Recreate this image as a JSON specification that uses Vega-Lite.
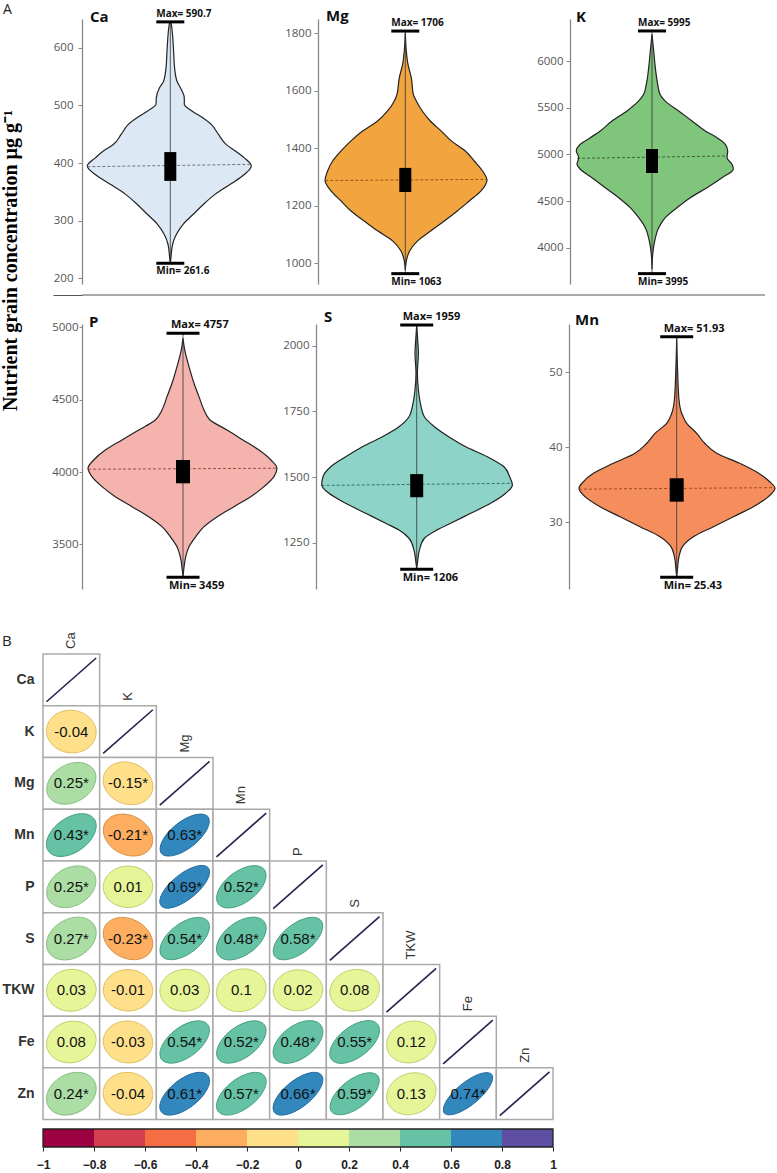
{
"$schema": "https://vega.github.io/schema/vega-lite/v6.json",
"background": "white",
"padding": {"left": 0, "top": 3, "right": 0, "bottom": 0},
"config": {
  "view": {"stroke": null},
  "axisX": {"domain": false, "ticks": false, "labels": false, "grid": false},
  "axisY": {"grid": false, "domainColor": "#888", "domainWidth": 1.3, "tickColor": "#888", "tickSize": 4, "tickWidth": 1, "labelColor": "#555", "labelFont": "Open Sans", "labelFontSize": 11.5, "labelPadding": 3}
},
"spacing": 40,
"vconcat": [
{
  "spacing": 4,
  "hconcat": [
    {
      "width": 2, "height": 482,
      "title": {"text": "A", "anchor": "start", "frame": "bounds", "offset": 2, "dx": 3, "fontSize": 14, "font": "Open Sans", "fontWeight": "normal", "color": "#222"},
      "data": {"values": [{"p": 0}]},
      "mark": {"type": "point", "opacity": 0},
      "encoding": {"y": {"field": "p", "type": "quantitative", "scale": {"domain": [0, 1]},
        "axis": {"title": "Nutrient grain concentration µg g⁻¹", "titleFont": "Liberation Serif", "titleFontSize": 20, "titleFontWeight": "bold", "titleColor": "#000", "titlePadding": 23, "labels": false, "ticks": false, "domain": false}}}
    },
    {
      "spacing": 7,
      "vconcat": [
        {
          "spacing": 0,
          "hconcat": [
            {
              "width": 202, "height": 265,
              "layer": [
                {
                  "data": {"values": [
                    {"v": 226, "l": 0, "r": 0}, {"v": 230, "l": -0.003, "r": 0.003}, {"v": 259, "l": -0.023, "r": 0.023}, {"v": 276, "l": -0.06, "r": 0.06}, {"v": 294, "l": -0.13, "r": 0.13}, {"v": 311, "l": -0.23, "r": 0.23}, {"v": 328, "l": -0.33, "r": 0.33}, {"v": 346, "l": -0.45, "r": 0.45}, {"v": 363, "l": -0.6, "r": 0.6}, {"v": 380, "l": -0.75, "r": 0.74}, {"v": 395, "l": -0.83, "r": 0.81}, {"v": 409, "l": -0.75, "r": 0.74}, {"v": 421, "l": -0.67, "r": 0.65}, {"v": 432, "l": -0.57, "r": 0.56}, {"v": 450, "l": -0.49, "r": 0.48}, {"v": 467, "l": -0.42, "r": 0.41}, {"v": 479, "l": -0.33, "r": 0.32}, {"v": 490, "l": -0.23, "r": 0.22}, {"v": 502, "l": -0.143, "r": 0.14}, {"v": 513, "l": -0.14, "r": 0.14}, {"v": 531, "l": -0.107, "r": 0.1}, {"v": 542, "l": -0.067, "r": 0.067}, {"v": 565, "l": -0.043, "r": 0.043}, {"v": 594, "l": -0.033, "r": 0.033}, {"v": 641, "l": -0.01, "r": 0.01}, {"v": 645, "l": 0, "r": 0}
                  ]},
                  "mark": {"type": "area", "orient": "horizontal", "interpolate": "monotone", "fill": "#DCE9F5", "stroke": "#222", "strokeWidth": 1.2},
                  "encoding": {
                    "y": {"field": "v", "type": "quantitative", "title": null, "scale": {"domain": [190, 650], "nice": false, "zero": false}, "axis": {"values": [200, 300, 400, 500, 600], "format": "d", "labelPadding": 5}},
                    "x": {"field": "l", "type": "quantitative", "title": null, "scale": {"domain": [-0.883, 1.137], "nice": false, "zero": false}},
                    "x2": {"field": "r"}
                  }
                },
                {
                  "data": {"values": [{"lo": 226, "hi": 645, "q1": 369, "q3": 419, "ml": 393.6, "mr": 397.7, "dl": -0.83, "dr": 0.81}]},
                  "layer": [
                    {"mark": {"type": "rule", "color": "#333", "strokeWidth": 0.8}, "encoding": {"x": {"datum": 0}, "y": {"field": "lo", "type": "quantitative", "title": null}, "y2": {"field": "hi"}}},
                    {"mark": {"type": "rule", "color": "#555", "strokeWidth": 0.8, "strokeDash": [3, 2]}, "encoding": {"x": {"field": "dl", "type": "quantitative", "title": null}, "x2": {"field": "dr"}, "y": {"field": "ml", "type": "quantitative", "title": null}, "y2": {"field": "mr"}}},
                    {"mark": {"type": "rule", "color": "#000", "strokeWidth": 12, "strokeCap": "butt"}, "encoding": {"x": {"datum": 0}, "y": {"field": "q1", "type": "quantitative", "title": null}, "y2": {"field": "q3"}}}
                  ]
                },
                {
                  "data": {"values": [{"k": "max", "v": 645, "t": "Max= 590.7"}, {"k": "min", "v": 226, "t": "Min= 261.6"}]},
                  "layer": [
                    {"mark": {"type": "tick", "orient": "horizontal", "size": 28, "thickness": 3, "color": "#000", "opacity": 1}, "encoding": {"x": {"datum": 0}, "y": {"field": "v", "type": "quantitative", "title": null}}},
                    {"transform": [{"filter": "datum.k == 'max'"}], "mark": {"type": "text", "align": "left", "baseline": "bottom", "dx": -14, "dy": -3, "font": "Open Sans", "fontWeight": "bold", "fontSize": 10, "color": "#111"}, "encoding": {"x": {"datum": 0}, "y": {"field": "v", "type": "quantitative", "title": null}, "text": {"field": "t"}}},
                    {"transform": [{"filter": "datum.k == 'min'"}], "mark": {"type": "text", "align": "left", "baseline": "top", "dx": -14, "dy": 3, "font": "Open Sans", "fontWeight": "bold", "fontSize": 10, "color": "#111"}, "encoding": {"x": {"datum": 0}, "y": {"field": "v", "type": "quantitative", "title": null}, "text": {"field": "t"}}}
                  ]
                },
                {
                  "data": {"values": [{"n": "Ca"}]},
                  "mark": {"type": "text", "align": "left", "baseline": "middle", "dx": 8, "dy": -2, "font": "Open Sans", "fontWeight": "bold", "fontSize": 15, "color": "#111"},
                  "encoding": {"x": {"datum": -0.883}, "y": {"datum": 650}, "text": {"field": "n"}}
                }
              ]
            },
            {
              "width": 218, "height": 265,
              "layer": [
                {
                  "data": {"values": [
                    {"v": 975, "l": 0, "r": 0}, {"v": 1007, "l": -0.01, "r": 0.01}, {"v": 1042, "l": -0.043, "r": 0.043}, {"v": 1077, "l": -0.127, "r": 0.123}, {"v": 1112, "l": -0.277, "r": 0.257}, {"v": 1146, "l": -0.41, "r": 0.39}, {"v": 1181, "l": -0.543, "r": 0.52}, {"v": 1216, "l": -0.643, "r": 0.64}, {"v": 1251, "l": -0.743, "r": 0.757}, {"v": 1288, "l": -0.803, "r": 0.817}, {"v": 1320, "l": -0.777, "r": 0.773}, {"v": 1355, "l": -0.727, "r": 0.69}, {"v": 1390, "l": -0.643, "r": 0.6}, {"v": 1425, "l": -0.543, "r": 0.46}, {"v": 1459, "l": -0.427, "r": 0.36}, {"v": 1494, "l": -0.277, "r": 0.25}, {"v": 1529, "l": -0.177, "r": 0.17}, {"v": 1564, "l": -0.11, "r": 0.11}, {"v": 1587, "l": -0.083, "r": 0.08}, {"v": 1645, "l": -0.06, "r": 0.06}, {"v": 1691, "l": -0.027, "r": 0.027}, {"v": 1738, "l": -0.01, "r": 0.01}, {"v": 1801, "l": 0, "r": 0}
                  ]},
                  "mark": {"type": "area", "orient": "horizontal", "interpolate": "monotone", "fill": "#F2A53F", "stroke": "#222", "strokeWidth": 1.2},
                  "encoding": {
                    "y": {"field": "v", "type": "quantitative", "title": null, "scale": {"domain": [927, 1849], "nice": false, "zero": false}, "axis": {"values": [1000, 1200, 1400, 1600, 1800], "format": "d"}},
                    "x": {"field": "l", "type": "quantitative", "title": null, "scale": {"domain": [-0.873, 1.307], "nice": false, "zero": false}},
                    "x2": {"field": "r"}
                  }
                },
                {
                  "data": {"values": [{"lo": 963, "hi": 1807, "q1": 1247, "q3": 1331, "ml": 1287, "mr": 1291, "dl": -0.8, "dr": 0.817}]},
                  "layer": [
                    {"mark": {"type": "rule", "color": "#333", "strokeWidth": 0.8}, "encoding": {"x": {"datum": 0}, "y": {"field": "lo", "type": "quantitative", "title": null}, "y2": {"field": "hi"}}},
                    {"mark": {"type": "rule", "color": "#7a4500", "strokeWidth": 0.8, "strokeDash": [3, 2]}, "encoding": {"x": {"field": "dl", "type": "quantitative", "title": null}, "x2": {"field": "dr"}, "y": {"field": "ml", "type": "quantitative", "title": null}, "y2": {"field": "mr"}}},
                    {"mark": {"type": "rule", "color": "#000", "strokeWidth": 12, "strokeCap": "butt"}, "encoding": {"x": {"datum": 0}, "y": {"field": "q1", "type": "quantitative", "title": null}, "y2": {"field": "q3"}}}
                  ]
                },
                {
                  "data": {"values": [{"k": "max", "v": 1807, "t": "Max= 1706"}, {"k": "min", "v": 963, "t": "Min= 1063"}]},
                  "layer": [
                    {"mark": {"type": "tick", "orient": "horizontal", "size": 28, "thickness": 3, "color": "#000", "opacity": 1}, "encoding": {"x": {"datum": 0}, "y": {"field": "v", "type": "quantitative", "title": null}}},
                    {"transform": [{"filter": "datum.k == 'max'"}], "mark": {"type": "text", "align": "left", "baseline": "bottom", "dx": -14, "dy": -3, "font": "Open Sans", "fontWeight": "bold", "fontSize": 10, "color": "#111"}, "encoding": {"x": {"datum": 0}, "y": {"field": "v", "type": "quantitative", "title": null}, "text": {"field": "t"}}},
                    {"transform": [{"filter": "datum.k == 'min'"}], "mark": {"type": "text", "align": "left", "baseline": "top", "dx": -14, "dy": 3, "font": "Open Sans", "fontWeight": "bold", "fontSize": 10, "color": "#111"}, "encoding": {"x": {"datum": 0}, "y": {"field": "v", "type": "quantitative", "title": null}, "text": {"field": "t"}}}
                  ]
                },
                {
                  "data": {"values": [{"n": "Mg"}]},
                  "mark": {"type": "text", "align": "left", "baseline": "middle", "dx": 8, "dy": -3, "font": "Open Sans", "fontWeight": "bold", "fontSize": 15, "color": "#111"},
                  "encoding": {"x": {"datum": -0.873}, "y": {"datum": 1849}, "text": {"field": "n"}}
                }
              ]
            },
            {
              "width": 170, "height": 265,
              "layer": [
                {
                  "data": {"values": [
                    {"v": 3772, "l": 0, "r": 0}, {"v": 3932, "l": -0.007, "r": 0.007}, {"v": 4075, "l": -0.027, "r": 0.027}, {"v": 4217, "l": -0.067, "r": 0.067}, {"v": 4324, "l": -0.133, "r": 0.133}, {"v": 4431, "l": -0.217, "r": 0.25}, {"v": 4538, "l": -0.333, "r": 0.383}, {"v": 4645, "l": -0.467, "r": 0.55}, {"v": 4752, "l": -0.6, "r": 0.7}, {"v": 4842, "l": -0.717, "r": 0.813}, {"v": 4895, "l": -0.75, "r": 0.8}, {"v": 4966, "l": -0.733, "r": 0.75}, {"v": 5038, "l": -0.757, "r": 0.757}, {"v": 5109, "l": -0.717, "r": 0.733}, {"v": 5180, "l": -0.617, "r": 0.65}, {"v": 5252, "l": -0.517, "r": 0.533}, {"v": 5359, "l": -0.4, "r": 0.4}, {"v": 5466, "l": -0.25, "r": 0.267}, {"v": 5573, "l": -0.133, "r": 0.13}, {"v": 5644, "l": -0.083, "r": 0.08}, {"v": 5751, "l": -0.057, "r": 0.057}, {"v": 5929, "l": -0.033, "r": 0.033}, {"v": 6108, "l": -0.017, "r": 0.017}, {"v": 6286, "l": 0, "r": 0}
                  ]},
                  "mark": {"type": "area", "orient": "horizontal", "interpolate": "monotone", "fill": "#80C57C", "stroke": "#222", "strokeWidth": 1.2},
                  "encoding": {
                    "y": {"field": "v", "type": "quantitative", "title": null, "scale": {"domain": [3614, 6450], "nice": false, "zero": false}, "axis": {"values": [4000, 4500, 5000, 5500, 6000], "format": "d"}},
                    "x": {"field": "l", "type": "quantitative", "title": null, "scale": {"domain": [-0.82, 0.88], "nice": false, "zero": false}},
                    "x2": {"field": "r"}
                  }
                },
                {
                  "data": {"values": [{"lo": 3725, "hi": 6322, "q1": 4802, "q3": 5059, "ml": 4959, "mr": 4984, "dl": -0.75, "dr": 0.75}]},
                  "layer": [
                    {"mark": {"type": "rule", "color": "#333", "strokeWidth": 0.8}, "encoding": {"x": {"datum": 0}, "y": {"field": "lo", "type": "quantitative", "title": null}, "y2": {"field": "hi"}}},
                    {"mark": {"type": "rule", "color": "#2b4a2b", "strokeWidth": 0.8, "strokeDash": [3, 2]}, "encoding": {"x": {"field": "dl", "type": "quantitative", "title": null}, "x2": {"field": "dr"}, "y": {"field": "ml", "type": "quantitative", "title": null}, "y2": {"field": "mr"}}},
                    {"mark": {"type": "rule", "color": "#000", "strokeWidth": 12, "strokeCap": "butt"}, "encoding": {"x": {"datum": 0}, "y": {"field": "q1", "type": "quantitative", "title": null}, "y2": {"field": "q3"}}}
                  ]
                },
                {
                  "data": {"values": [{"k": "max", "v": 6322, "t": "Max= 5995"}, {"k": "min", "v": 3725, "t": "Min= 3995"}]},
                  "layer": [
                    {"mark": {"type": "tick", "orient": "horizontal", "size": 28, "thickness": 3, "color": "#000", "opacity": 1}, "encoding": {"x": {"datum": 0}, "y": {"field": "v", "type": "quantitative", "title": null}}},
                    {"transform": [{"filter": "datum.k == 'max'"}], "mark": {"type": "text", "align": "left", "baseline": "bottom", "dx": -14, "dy": -3, "font": "Open Sans", "fontWeight": "bold", "fontSize": 10, "color": "#111"}, "encoding": {"x": {"datum": 0}, "y": {"field": "v", "type": "quantitative", "title": null}, "text": {"field": "t"}}},
                    {"transform": [{"filter": "datum.k == 'min'"}], "mark": {"type": "text", "align": "left", "baseline": "top", "dx": -14, "dy": 3, "font": "Open Sans", "fontWeight": "bold", "fontSize": 10, "color": "#111"}, "encoding": {"x": {"datum": 0}, "y": {"field": "v", "type": "quantitative", "title": null}, "text": {"field": "t"}}}
                  ]
                },
                {
                  "data": {"values": [{"n": "K"}]},
                  "mark": {"type": "text", "align": "left", "baseline": "middle", "dx": 6, "dy": -2, "font": "Open Sans", "fontWeight": "bold", "fontSize": 15, "color": "#111"},
                  "encoding": {"x": {"datum": -0.82}, "y": {"datum": 6450}, "text": {"field": "n"}}
                }
              ]
            }
          ]
        },
        {
          "width": 683, "height": 8,
          "data": {"values": [{"p": 1}]},
          "mark": {"type": "rule", "color": "#555", "strokeWidth": 1},
          "encoding": {"y": {"field": "p", "type": "quantitative", "scale": {"domain": [0, 1]},
            "axis": {"values": [1], "labels": false, "domain": false, "ticks": true, "tickSize": 29, "tickColor": "#555", "tickWidth": 1, "title": null}}}
        },
        {
          "spacing": 0,
          "hconcat": [
            {
              "width": 200, "height": 265,
              "layer": [
                {
                  "data": {"values": [
                    {"v": 3278, "l": 0, "r": 0}, {"v": 3324, "l": -0.007, "r": 0.007}, {"v": 3416, "l": -0.027, "r": 0.027}, {"v": 3485, "l": -0.06, "r": 0.06}, {"v": 3554, "l": -0.127, "r": 0.127}, {"v": 3623, "l": -0.21, "r": 0.21}, {"v": 3692, "l": -0.343, "r": 0.343}, {"v": 3761, "l": -0.51, "r": 0.51}, {"v": 3830, "l": -0.677, "r": 0.677}, {"v": 3899, "l": -0.81, "r": 0.81}, {"v": 3968, "l": -0.91, "r": 0.91}, {"v": 4026, "l": -0.95, "r": 0.94}, {"v": 4083, "l": -0.893, "r": 0.88}, {"v": 4152, "l": -0.777, "r": 0.76}, {"v": 4221, "l": -0.61, "r": 0.6}, {"v": 4290, "l": -0.443, "r": 0.44}, {"v": 4359, "l": -0.277, "r": 0.27}, {"v": 4428, "l": -0.21, "r": 0.21}, {"v": 4520, "l": -0.16, "r": 0.16}, {"v": 4612, "l": -0.11, "r": 0.11}, {"v": 4727, "l": -0.06, "r": 0.06}, {"v": 4842, "l": -0.017, "r": 0.017}, {"v": 4922, "l": 0, "r": 0}
                  ]},
                  "mark": {"type": "area", "orient": "horizontal", "interpolate": "monotone", "fill": "#F5B3AE", "stroke": "#222", "strokeWidth": 1.2},
                  "encoding": {
                    "y": {"field": "v", "type": "quantitative", "title": null, "scale": {"domain": [3193, 5021], "nice": false, "zero": false}, "axis": {"values": [3500, 4000, 4500, 5000], "format": "d", "labelPadding": 1, "tickSize": 3}},
                    "x": {"field": "l", "type": "quantitative", "title": null, "scale": {"domain": [-1.01, 0.99], "nice": false, "zero": false}},
                    "x2": {"field": "r"}
                  }
                },
                {
                  "data": {"values": [{"lo": 3274, "hi": 4957, "q1": 3922, "q3": 4083, "ml": 4019, "mr": 4026, "dl": -0.95, "dr": 0.94}]},
                  "layer": [
                    {"mark": {"type": "rule", "color": "#333", "strokeWidth": 0.8}, "encoding": {"x": {"datum": 0}, "y": {"field": "lo", "type": "quantitative", "title": null}, "y2": {"field": "hi"}}},
                    {"mark": {"type": "rule", "color": "#8a3030", "strokeWidth": 0.8, "strokeDash": [3, 2]}, "encoding": {"x": {"field": "dl", "type": "quantitative", "title": null}, "x2": {"field": "dr"}, "y": {"field": "ml", "type": "quantitative", "title": null}, "y2": {"field": "mr"}}},
                    {"mark": {"type": "rule", "color": "#000", "strokeWidth": 14, "strokeCap": "butt"}, "encoding": {"x": {"datum": 0}, "y": {"field": "q1", "type": "quantitative", "title": null}, "y2": {"field": "q3"}}}
                  ]
                },
                {
                  "data": {"values": [{"k": "max", "v": 4957, "t": "Max= 4757"}, {"k": "min", "v": 3274, "t": "Min= 3459"}]},
                  "layer": [
                    {"mark": {"type": "tick", "orient": "horizontal", "size": 33, "thickness": 3, "color": "#000", "opacity": 1}, "encoding": {"x": {"datum": 0}, "y": {"field": "v", "type": "quantitative", "title": null}}},
                    {"transform": [{"filter": "datum.k == 'max'"}], "mark": {"type": "text", "align": "left", "baseline": "bottom", "dx": -12, "dy": -3, "font": "Open Sans", "fontWeight": "bold", "fontSize": 11, "color": "#111"}, "encoding": {"x": {"datum": 0}, "y": {"field": "v", "type": "quantitative", "title": null}, "text": {"field": "t"}}},
                    {"transform": [{"filter": "datum.k == 'min'"}], "mark": {"type": "text", "align": "left", "baseline": "top", "dx": -14, "dy": 3, "font": "Open Sans", "fontWeight": "bold", "fontSize": 11, "color": "#111"}, "encoding": {"x": {"datum": 0}, "y": {"field": "v", "type": "quantitative", "title": null}, "text": {"field": "t"}}}
                  ]
                },
                {
                  "data": {"values": [{"n": "P"}]},
                  "mark": {"type": "text", "align": "left", "baseline": "middle", "dx": 7, "dy": -2, "font": "Open Sans", "fontWeight": "bold", "fontSize": 15, "color": "#111"},
                  "encoding": {"x": {"datum": -1.01}, "y": {"datum": 5021}, "text": {"field": "n"}}
                }
              ]
            },
            {
              "width": 232, "height": 265,
              "layer": [
                {
                  "data": {"values": [
                    {"v": 1153, "l": 0, "r": 0}, {"v": 1172, "l": -0.007, "r": 0.007}, {"v": 1222, "l": -0.027, "r": 0.027}, {"v": 1267, "l": -0.077, "r": 0.077}, {"v": 1298, "l": -0.177, "r": 0.2}, {"v": 1324, "l": -0.31, "r": 0.34}, {"v": 1362, "l": -0.51, "r": 0.54}, {"v": 1400, "l": -0.71, "r": 0.74}, {"v": 1438, "l": -0.877, "r": 0.89}, {"v": 1470, "l": -0.95, "r": 0.957}, {"v": 1501, "l": -0.937, "r": 0.93}, {"v": 1539, "l": -0.86, "r": 0.873}, {"v": 1577, "l": -0.71, "r": 0.707}, {"v": 1615, "l": -0.543, "r": 0.49}, {"v": 1653, "l": -0.343, "r": 0.32}, {"v": 1691, "l": -0.177, "r": 0.177}, {"v": 1729, "l": -0.077, "r": 0.077}, {"v": 1780, "l": -0.037, "r": 0.037}, {"v": 1831, "l": -0.017, "r": 0.017}, {"v": 1895, "l": -0.007, "r": 0.007}, {"v": 1970, "l": -0.017, "r": 0.017}, {"v": 2021, "l": -0.01, "r": 0.01}, {"v": 2078, "l": 0, "r": 0}
                  ]},
                  "mark": {"type": "area", "orient": "horizontal", "interpolate": "monotone", "fill": "#8DD3C7", "stroke": "#222", "strokeWidth": 1.2},
                  "encoding": {
                    "y": {"field": "v", "type": "quantitative", "title": null, "scale": {"domain": [1074, 2082], "nice": false, "zero": false}, "axis": {"values": [1250, 1500, 1750, 2000], "format": "d"}},
                    "x": {"field": "l", "type": "quantitative", "title": null, "scale": {"domain": [-1.007, 1.313], "nice": false, "zero": false}},
                    "x2": {"field": "r"}
                  }
                },
                {
                  "data": {"values": [{"lo": 1149, "hi": 2078, "q1": 1423, "q3": 1511, "ml": 1468, "mr": 1476, "dl": -0.95, "dr": 0.955}]},
                  "layer": [
                    {"mark": {"type": "rule", "color": "#333", "strokeWidth": 0.8}, "encoding": {"x": {"datum": 0}, "y": {"field": "lo", "type": "quantitative", "title": null}, "y2": {"field": "hi"}}},
                    {"mark": {"type": "rule", "color": "#2a5550", "strokeWidth": 0.8, "strokeDash": [3, 2]}, "encoding": {"x": {"field": "dl", "type": "quantitative", "title": null}, "x2": {"field": "dr"}, "y": {"field": "ml", "type": "quantitative", "title": null}, "y2": {"field": "mr"}}},
                    {"mark": {"type": "rule", "color": "#000", "strokeWidth": 13, "strokeCap": "butt"}, "encoding": {"x": {"datum": 0}, "y": {"field": "q1", "type": "quantitative", "title": null}, "y2": {"field": "q3"}}}
                  ]
                },
                {
                  "data": {"values": [{"k": "max", "v": 2078, "t": "Max= 1959"}, {"k": "min", "v": 1149, "t": "Min= 1206"}]},
                  "layer": [
                    {"mark": {"type": "tick", "orient": "horizontal", "size": 33, "thickness": 3, "color": "#000", "opacity": 1}, "encoding": {"x": {"datum": 0}, "y": {"field": "v", "type": "quantitative", "title": null}}},
                    {"transform": [{"filter": "datum.k == 'max'"}], "mark": {"type": "text", "align": "left", "baseline": "bottom", "dx": -14, "dy": -3, "font": "Open Sans", "fontWeight": "bold", "fontSize": 11, "color": "#111"}, "encoding": {"x": {"datum": 0}, "y": {"field": "v", "type": "quantitative", "title": null}, "text": {"field": "t"}}},
                    {"transform": [{"filter": "datum.k == 'min'"}], "mark": {"type": "text", "align": "left", "baseline": "top", "dx": -14, "dy": 3, "font": "Open Sans", "fontWeight": "bold", "fontSize": 11, "color": "#111"}, "encoding": {"x": {"datum": 0}, "y": {"field": "v", "type": "quantitative", "title": null}, "text": {"field": "t"}}}
                  ]
                },
                {
                  "data": {"values": [{"n": "S"}]},
                  "mark": {"type": "text", "align": "left", "baseline": "middle", "dx": 8, "dy": -7, "font": "Open Sans", "fontWeight": "bold", "fontSize": 15, "color": "#111"},
                  "encoding": {"x": {"datum": -1.007}, "y": {"datum": 2082}, "text": {"field": "n"}}
                }
              ]
            },
            {
              "width": 200, "height": 265,
              "layer": [
                {
                  "data": {"values": [
                    {"v": 22.74, "l": 0, "r": 0}, {"v": 23.63, "l": -0.007, "r": 0.007}, {"v": 25.4, "l": -0.023, "r": 0.023}, {"v": 26.74, "l": -0.057, "r": 0.057}, {"v": 28.07, "l": -0.167, "r": 0.167}, {"v": 29.4, "l": -0.367, "r": 0.367}, {"v": 30.73, "l": -0.567, "r": 0.567}, {"v": 32.06, "l": -0.767, "r": 0.767}, {"v": 33.4, "l": -0.917, "r": 0.917}, {"v": 34.51, "l": -0.977, "r": 0.983}, {"v": 35.39, "l": -0.933, "r": 0.93}, {"v": 36.51, "l": -0.833, "r": 0.82}, {"v": 37.84, "l": -0.633, "r": 0.63}, {"v": 39.18, "l": -0.417, "r": 0.4}, {"v": 40.51, "l": -0.3, "r": 0.28}, {"v": 41.84, "l": -0.217, "r": 0.2}, {"v": 43.17, "l": -0.1, "r": 0.1}, {"v": 44.5, "l": -0.05, "r": 0.05}, {"v": 46.28, "l": -0.023, "r": 0.023}, {"v": 49.83, "l": -0.01, "r": 0.01}, {"v": 54.49, "l": 0, "r": 0}
                  ]},
                  "mark": {"type": "area", "orient": "horizontal", "interpolate": "monotone", "fill": "#F68D5C", "stroke": "#222", "strokeWidth": 1.2},
                  "encoding": {
                    "y": {"field": "v", "type": "quantitative", "title": null, "scale": {"domain": [21.1, 56.4], "nice": false, "zero": false}, "axis": {"values": [30, 40, 50], "format": "d"}},
                    "x": {"field": "l", "type": "quantitative", "title": null, "scale": {"domain": [-1.077, 0.923], "nice": false, "zero": false}},
                    "x2": {"field": "r"}
                  }
                },
                {
                  "data": {"values": [{"lo": 22.66, "hi": 54.7, "q1": 32.73, "q3": 35.85, "ml": 34.4, "mr": 34.6, "dl": -0.977, "dr": 0.983}]},
                  "layer": [
                    {"mark": {"type": "rule", "color": "#333", "strokeWidth": 0.8}, "encoding": {"x": {"datum": 0}, "y": {"field": "lo", "type": "quantitative", "title": null}, "y2": {"field": "hi"}}},
                    {"mark": {"type": "rule", "color": "#8a3a10", "strokeWidth": 0.8, "strokeDash": [3, 2]}, "encoding": {"x": {"field": "dl", "type": "quantitative", "title": null}, "x2": {"field": "dr"}, "y": {"field": "ml", "type": "quantitative", "title": null}, "y2": {"field": "mr"}}},
                    {"mark": {"type": "rule", "color": "#000", "strokeWidth": 14, "strokeCap": "butt"}, "encoding": {"x": {"datum": 0}, "y": {"field": "q1", "type": "quantitative", "title": null}, "y2": {"field": "q3"}}}
                  ]
                },
                {
                  "data": {"values": [{"k": "max", "v": 54.7, "t": "Max= 51.93"}, {"k": "min", "v": 22.66, "t": "Min= 25.43"}]},
                  "layer": [
                    {"mark": {"type": "tick", "orient": "horizontal", "size": 33, "thickness": 3, "color": "#000", "opacity": 1}, "encoding": {"x": {"datum": 0}, "y": {"field": "v", "type": "quantitative", "title": null}}},
                    {"transform": [{"filter": "datum.k == 'max'"}], "mark": {"type": "text", "align": "left", "baseline": "bottom", "dx": -13, "dy": -3, "font": "Open Sans", "fontWeight": "bold", "fontSize": 11, "color": "#111"}, "encoding": {"x": {"datum": 0}, "y": {"field": "v", "type": "quantitative", "title": null}, "text": {"field": "t"}}},
                    {"transform": [{"filter": "datum.k == 'min'"}], "mark": {"type": "text", "align": "left", "baseline": "top", "dx": -13, "dy": 3, "font": "Open Sans", "fontWeight": "bold", "fontSize": 11, "color": "#111"}, "encoding": {"x": {"datum": 0}, "y": {"field": "v", "type": "quantitative", "title": null}, "text": {"field": "t"}}}
                  ]
                },
                {
                  "data": {"values": [{"n": "Mn"}]},
                  "mark": {"type": "text", "align": "left", "baseline": "middle", "dx": 6, "dy": -4, "font": "Open Sans", "fontWeight": "bold", "fontSize": 15, "color": "#111"},
                  "encoding": {"x": {"datum": -1.077}, "y": {"datum": 56.4}, "text": {"field": "n"}}
                }
              ]
            }
          ]
        }
      ]
    }
  ]
},
{
  "spacing": 7,
  "vconcat": [
    {
      "width": 510, "height": 465.6,
      "title": {"text": "B", "anchor": "start", "frame": "bounds", "offset": -17, "fontSize": 15, "font": "Open Sans", "fontWeight": "normal", "color": "#222"},
      "data": {"values": [
        {"row": "Ca", "col": "Ca", "r": null, "lab": ""},
        {"row": "K", "col": "Ca", "r": -0.04, "lab": "-0.04"},
        {"row": "K", "col": "K", "r": null, "lab": ""},
        {"row": "Mg", "col": "Ca", "r": 0.25, "lab": "0.25*"},
        {"row": "Mg", "col": "K", "r": -0.15, "lab": "-0.15*"},
        {"row": "Mg", "col": "Mg", "r": null, "lab": ""},
        {"row": "Mn", "col": "Ca", "r": 0.43, "lab": "0.43*"},
        {"row": "Mn", "col": "K", "r": -0.21, "lab": "-0.21*"},
        {"row": "Mn", "col": "Mg", "r": 0.63, "lab": "0.63*"},
        {"row": "Mn", "col": "Mn", "r": null, "lab": ""},
        {"row": "P", "col": "Ca", "r": 0.25, "lab": "0.25*"},
        {"row": "P", "col": "K", "r": 0.01, "lab": "0.01"},
        {"row": "P", "col": "Mg", "r": 0.69, "lab": "0.69*"},
        {"row": "P", "col": "Mn", "r": 0.52, "lab": "0.52*"},
        {"row": "P", "col": "P", "r": null, "lab": ""},
        {"row": "S", "col": "Ca", "r": 0.27, "lab": "0.27*"},
        {"row": "S", "col": "K", "r": -0.23, "lab": "-0.23*"},
        {"row": "S", "col": "Mg", "r": 0.54, "lab": "0.54*"},
        {"row": "S", "col": "Mn", "r": 0.48, "lab": "0.48*"},
        {"row": "S", "col": "P", "r": 0.58, "lab": "0.58*"},
        {"row": "S", "col": "S", "r": null, "lab": ""},
        {"row": "TKW", "col": "Ca", "r": 0.03, "lab": "0.03"},
        {"row": "TKW", "col": "K", "r": -0.01, "lab": "-0.01"},
        {"row": "TKW", "col": "Mg", "r": 0.03, "lab": "0.03"},
        {"row": "TKW", "col": "Mn", "r": 0.1, "lab": "0.1"},
        {"row": "TKW", "col": "P", "r": 0.02, "lab": "0.02"},
        {"row": "TKW", "col": "S", "r": 0.08, "lab": "0.08"},
        {"row": "TKW", "col": "TKW", "r": null, "lab": ""},
        {"row": "Fe", "col": "Ca", "r": 0.08, "lab": "0.08"},
        {"row": "Fe", "col": "K", "r": -0.03, "lab": "-0.03"},
        {"row": "Fe", "col": "Mg", "r": 0.54, "lab": "0.54*"},
        {"row": "Fe", "col": "Mn", "r": 0.52, "lab": "0.52*"},
        {"row": "Fe", "col": "P", "r": 0.48, "lab": "0.48*"},
        {"row": "Fe", "col": "S", "r": 0.55, "lab": "0.55*"},
        {"row": "Fe", "col": "TKW", "r": 0.12, "lab": "0.12"},
        {"row": "Fe", "col": "Fe", "r": null, "lab": ""},
        {"row": "Zn", "col": "Ca", "r": 0.24, "lab": "0.24*"},
        {"row": "Zn", "col": "K", "r": -0.04, "lab": "-0.04"},
        {"row": "Zn", "col": "Mg", "r": 0.61, "lab": "0.61*"},
        {"row": "Zn", "col": "Mn", "r": 0.57, "lab": "0.57*"},
        {"row": "Zn", "col": "P", "r": 0.66, "lab": "0.66*"},
        {"row": "Zn", "col": "S", "r": 0.59, "lab": "0.59*"},
        {"row": "Zn", "col": "TKW", "r": 0.13, "lab": "0.13"},
        {"row": "Zn", "col": "Fe", "r": 0.74, "lab": "0.74*"},
        {"row": "Zn", "col": "Zn", "r": null, "lab": ""}
      ]},
      "encoding": {
        "x": {"field": "col", "type": "nominal", "sort": ["Ca", "K", "Mg", "Mn", "P", "S", "TKW", "Fe", "Zn"], "scale": {"paddingInner": 0, "paddingOuter": 0}, "title": null},
        "y": {"field": "row", "type": "nominal", "sort": ["Ca", "K", "Mg", "Mn", "P", "S", "TKW", "Fe", "Zn"], "scale": {"paddingInner": 0, "paddingOuter": 0}, "title": null,
              "axis": {"domain": false, "ticks": false, "labelFont": "Liberation Sans", "labelFontSize": 14, "labelFontWeight": "bold", "labelColor": "#333", "labelPadding": 9}}
      },
      "layer": [
        {"mark": {"type": "rect", "fill": "white", "stroke": "#aaaaaa", "strokeWidth": 1.5}},
        {
          "transform": [{"filter": "datum.row != datum.col"}],
          "mark": {"type": "point", "filled": true, "size": 2470, "opacity": 1, "strokeWidth": 1},
          "encoding": {
            "fill": {"field": "r", "type": "quantitative",
              "scale": {"type": "quantize", "domain": [-1, 1], "nice": false, "zero": false, "range": ["#9E0142", "#D53E4F", "#F46D43", "#FDAE61", "#FEE08B", "#E6F598", "#ABDDA4", "#66C2A5", "#3288BD", "#5E4FA2"]},
              "legend": null},
            "stroke": {"field": "r", "type": "quantitative",
              "scale": {"type": "quantize", "domain": [-1, 1], "nice": false, "zero": false, "range": ["#700030", "#A02838", "#C85030", "#D99045", "#E0BE62", "#BFCF70", "#86BE80", "#459C80", "#1F6A9C", "#40307A"]},
              "legend": null},
            "shape": {"field": "r", "type": "nominal", "legend": null,
              "scale": {
                "domain": [-0.23, -0.21, -0.15, -0.04, -0.03, -0.01, 0.01, 0.02, 0.03, 0.08, 0.1, 0.12, 0.13, 0.24, 0.25, 0.27, 0.43, 0.48, 0.52, 0.54, 0.55, 0.57, 0.58, 0.59, 0.61, 0.63, 0.66, 0.69, 0.74],
                "range": [
                  "M0.926,0.499A1.052,0.796,28.33,0,1,-0.926,-0.499A1.052,0.796,28.33,0,1,0.926,0.499Z",
                  "M0.930,0.476A1.045,0.804,27.11,0,1,-0.930,-0.476A1.045,0.804,27.11,0,1,0.930,0.476Z",
                  "M0.949,0.391A1.026,0.829,22.37,0,1,-0.949,-0.391A1.026,0.829,22.37,0,1,0.949,0.391Z",
                  "M0.994,0.129A1.002,0.857,7.40,0,1,-0.994,-0.129A1.002,0.857,7.40,0,1,0.994,0.129Z",
                  "M0.996,0.098A1.001,0.859,5.60,0,1,-0.996,-0.098A1.001,0.859,5.60,0,1,0.996,0.098Z",
                  "M0.999,0.033A1.000,0.860,1.89,0,1,-0.999,-0.033A1.000,0.860,1.89,0,1,0.999,0.033Z",
                  "M0.999,-0.033A1.000,0.860,-1.89,0,1,-0.999,0.033A1.000,0.860,-1.89,0,1,0.999,-0.033Z",
                  "M0.998,-0.066A1.001,0.859,-3.76,0,1,-0.998,0.066A1.001,0.859,-3.76,0,1,0.998,-0.066Z",
                  "M0.996,-0.098A1.001,0.859,-5.60,0,1,-0.996,0.098A1.001,0.859,-5.60,0,1,0.996,-0.098Z",
                  "M0.979,-0.243A1.009,0.850,-13.92,0,1,-0.979,0.243A1.009,0.850,-13.92,0,1,0.979,-0.243Z",
                  "M0.970,-0.292A1.013,0.845,-16.73,0,1,-0.970,0.292A1.013,0.845,-16.73,0,1,0.970,-0.292Z",
                  "M0.961,-0.335A1.018,0.839,-19.20,0,1,-0.961,0.335A1.018,0.839,-19.20,0,1,0.961,-0.335Z",
                  "M0.957,-0.355A1.021,0.836,-20.33,0,1,-0.957,0.355A1.021,0.836,-20.33,0,1,0.957,-0.355Z",
                  "M0.924,-0.510A1.055,0.791,-28.88,0,1,-0.924,0.510A1.055,0.791,-28.88,0,1,0.924,-0.510Z",
                  "M0.922,-0.520A1.059,0.786,-29.40,0,1,-0.922,0.520A1.059,0.786,-29.40,0,1,0.922,-0.520Z",
                  "M0.920,-0.539A1.066,0.777,-30.36,0,1,-0.920,0.539A1.066,0.777,-30.36,0,1,0.920,-0.539Z",
                  "M0.917,-0.649A1.123,0.691,-35.30,0,1,-0.917,0.649A1.123,0.691,-35.30,0,1,0.917,-0.649Z",
                  "M0.921,-0.675A1.141,0.661,-36.24,0,1,-0.921,0.675A1.141,0.661,-36.24,0,1,0.921,-0.675Z",
                  "M0.925,-0.693A1.156,0.636,-36.88,0,1,-0.925,0.693A1.156,0.636,-36.88,0,1,0.925,-0.693Z",
                  "M0.927,-0.702A1.163,0.622,-37.17,0,1,-0.927,0.702A1.163,0.622,-37.17,0,1,0.927,-0.702Z",
                  "M0.928,-0.707A1.166,0.616,-37.30,0,1,-0.928,0.707A1.166,0.616,-37.30,0,1,0.928,-0.707Z",
                  "M0.930,-0.715A1.173,0.602,-37.56,0,1,-0.930,0.715A1.173,0.602,-37.56,0,1,0.930,-0.715Z",
                  "M0.931,-0.720A1.177,0.595,-37.69,0,1,-0.931,0.720A1.177,0.595,-37.69,0,1,0.931,-0.720Z",
                  "M0.933,-0.723A1.181,0.588,-37.80,0,1,-0.933,0.723A1.181,0.588,-37.80,0,1,0.933,-0.723Z",
                  "M0.936,-0.732A1.188,0.574,-38.03,0,1,-0.936,0.732A1.188,0.574,-38.03,0,1,0.936,-0.732Z",
                  "M0.938,-0.739A1.195,0.559,-38.24,0,1,-0.938,0.739A1.195,0.559,-38.24,0,1,0.938,-0.739Z",
                  "M0.943,-0.751A1.205,0.536,-38.54,0,1,-0.943,0.751A1.205,0.536,-38.54,0,1,0.943,-0.751Z",
                  "M0.947,-0.762A1.215,0.512,-38.81,0,1,-0.947,0.762A1.215,0.512,-38.81,0,1,0.947,-0.762Z",
                  "M0.955,-0.779A1.233,0.469,-39.22,0,1,-0.955,0.779A1.233,0.469,-39.22,0,1,0.955,-0.779Z"
                ]
              }}
          }
        },
        {
          "transform": [{"filter": "datum.row == datum.col"}],
          "mark": {"type": "point", "shape": "M-1,0.88L1,-0.88", "filled": false, "size": 2470, "opacity": 1, "color": "#23234f", "stroke": "#23234f", "strokeWidth": 1.6}
        },
        {
          "transform": [{"filter": "datum.row != datum.col"}],
          "mark": {"type": "text", "fontSize": 15, "font": "Liberation Sans", "color": "#111"},
          "encoding": {"text": {"field": "lab"}}
        },
        {
          "transform": [{"filter": "datum.row == datum.col"}],
          "mark": {"type": "text", "angle": 270, "align": "left", "baseline": "middle", "dx": 5, "fontSize": 13, "font": "Liberation Sans", "color": "#333"},
          "encoding": {
            "text": {"field": "col"},
            "y": {"field": "row", "type": "nominal", "sort": ["Ca", "K", "Mg", "Mn", "P", "S", "TKW", "Fe", "Zn"], "bandPosition": 0, "title": null}
          }
        }
      ]
    },
    {
      "width": 510, "height": 18,
      "data": {"values": [
        {"lo": -1, "hi": -0.8}, {"lo": -0.8, "hi": -0.6}, {"lo": -0.6, "hi": -0.4}, {"lo": -0.4, "hi": -0.2}, {"lo": -0.2, "hi": 0},
        {"lo": 0, "hi": 0.2}, {"lo": 0.2, "hi": 0.4}, {"lo": 0.4, "hi": 0.6}, {"lo": 0.6, "hi": 0.8}, {"lo": 0.8, "hi": 1}
      ]},
      "layer": [
        {
          "mark": {"type": "rect"},
          "encoding": {
            "x": {"field": "lo", "type": "quantitative", "title": null, "scale": {"domain": [-1, 1], "nice": false, "zero": false},
              "axis": {"orient": "bottom", "values": [-1, -0.8, -0.6, -0.4, -0.2, 0, 0.2, 0.4, 0.6, 0.8, 1], "format": "~g", "domain": false, "grid": false, "labels": true, "ticks": true, "tickSize": 4, "tickColor": "#222", "tickWidth": 1, "labelFlush": false, "labelFont": "Liberation Sans", "labelFontSize": 12, "labelFontWeight": "bold", "labelColor": "#222", "labelPadding": 8, "title": null}},
            "x2": {"field": "hi"},
            "fill": {"field": "lo", "type": "quantitative", "legend": null,
              "scale": {"type": "quantize", "domain": [-1, 1], "nice": false, "zero": false, "range": ["#9E0142", "#D53E4F", "#F46D43", "#FDAE61", "#FEE08B", "#E6F598", "#ABDDA4", "#66C2A5", "#3288BD", "#5E4FA2"]}}
          }
        },
        {
          "data": {"values": [{"lo": -1, "hi": 1}]},
          "mark": {"type": "rect", "fill": "transparent", "stroke": "#222", "strokeWidth": 1.3},
          "encoding": {"x": {"field": "lo", "type": "quantitative", "title": null}, "x2": {"field": "hi"}}
        }
      ]
    }
  ]
}
]
}
